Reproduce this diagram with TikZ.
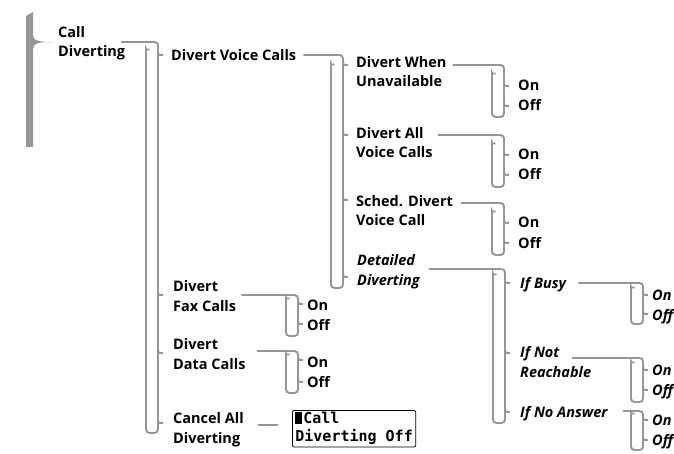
\documentclass[tikz,border=0pt]{standalone}
\usepackage{fontspec}
\setmainfont{Open Sans}
\newfontfamily\lcdfont{DejaVu Sans Mono}
\usepackage{tikz}
\definecolor{menugray}{RGB}{150,150,152}
% Klammer: Start, rechte Kante, unten, linke Oberkante, Kerben
\newcommand{\menubracket}[5]{%
  \draw[menuline, rounded corners=3.5pt] (#1) -| (#2,#3) -| (#2-12,#4)
    .. controls (#2-12,#4-2.5) .. (#2-8.5,#4-2.5);
  \foreach \n in {#5}
    \draw[menuline] (#2,\n-4.5) .. controls (#2,\n) .. (#2+5,\n);
}

\begin{document}
\begin{tikzpicture}[x=1pt, y=-1pt, font=\fontsize{14.5}{19.5}\selectfont\bfseries,
    menuline/.style={color=menugray, line width=1.9pt},
    menutext/.style={anchor=base west, align=left, inner sep=0pt},
    subtext/.style={menutext, font=\fontsize{14.5}{19.5}\selectfont\bfseries\itshape}]
	\useasboundingbox (0,0) rectangle (674,454);
	% grosse Klammer links
	\fill[menugray] (26,16) -- (33,12) -- (33,35) .. controls (33,41) and (40,42) .. (52,42)
	  .. controls (40,42) and (33,43) .. (33,49) -- (33,147) -- (26,147) -- cycle;
	% Menuepunkte (Grundlinie der letzten Zeile)
	\node[menutext] (cd)  at (58,57)   {Call\\Diverting};
	\node[menutext] (dvc) at (171,61)  {Divert Voice Calls};
	\node[menutext] (dw)  at (356,87)  {Divert When\\Unavailable};
	\node[menutext] (da)  at (356,158) {Divert All\\Voice Calls};
	\node[menutext] (sdv) at (356,226) {Sched. Divert\\Voice Call};
	\node[subtext]  (dd)  at (357,285) {Detailed\\Diverting};
	\node[subtext]  (ib)  at (520,288) {If Busy};
	\node[subtext]  (inr) at (520,377) {If Not\\Reachable};
	\node[subtext]  (ina) at (520,417) {If No Answer};
	\node[menutext] (dfc) at (173,311) {Divert\\Fax Calls};
	\node[menutext] (ddc) at (173,369) {Divert\\Data Calls};
	\node[menutext] (cad) at (173,443) {Cancel All\\Diverting};
	% On/Off
	\foreach \nm/\x/\y in {dw/518/91, da/518/160, sdv/518/228, dfc/307/310, ddc/307/367} {
		\node[menutext] (\nm-on)  at (\x,\y)    {On};
		\node[menutext] (\nm-off) at (\x,\y+20) {Off};
	}
	\foreach \nm/\x/\y in {ib/652/300, inr/652/375, ina/652/425} {
		\node[subtext] (\nm-on)  at (\x,\y)    {On};
		\node[subtext] (\nm-off) at (\x,\y+20) {Off};
	}
	% Klammern
	\menubracket{[xshift=63pt]cd.base west |- 0,42}{158}{433}{52}{55,295,353,423}
	\menubracket{[xshift=7pt]dvc.base east |- 0,55}{343}{288}{67}{65,135,200,277}
	\menubracket{[xshift=6pt]dw.base east |- 0,65}{504}{117}{76}{86,106}
	\menubracket{[xshift=5pt]da.base east |- 0,135}{504}{187}{146}{155,175}
	\menubracket{[xshift=8pt]sdv.base east |- 0,203}{504}{255}{214}{223,243}
	\menubracket{[xshift=9pt]dd.base east |- 0,269}{505}{423}{277}{283,353,412}
	\menubracket{[xshift=12pt]ib.base east |- 0,283}{643}{324}{290}{295,314}
	\menubracket{[xshift=52pt]inr.base west |- 0,358}{643}{402}{365}{370,390}
	\menubracket{[xshift=15pt]ina.base east |- 0,411}{643}{450}{416}{420,440}
	\menubracket{[xshift=5pt]dfc.base east |- 0,295}{298}{336}{301}{304,324}
	\menubracket{[xshift=11pt]ddc.base east |- 0,351}{298}{393}{357}{360,382}
	% Anzeige
	\node[draw, line width=0.8pt, rounded corners=2pt, anchor=north west, align=left,
	  inner xsep=3pt, inner ysep=2pt, font=\lcdfont\bfseries\fontsize{15}{18}\selectfont]
	  (lcd) at (292,410) {\rule{7pt}{11.5pt}\hspace{1pt}Call\\Diverting Off};
	\draw[menuline] ([xshift=14pt]cad.base east |- 0,425) -- ([xshift=-14pt]lcd.west |- 0,425);
\end{tikzpicture}
\end{document}
